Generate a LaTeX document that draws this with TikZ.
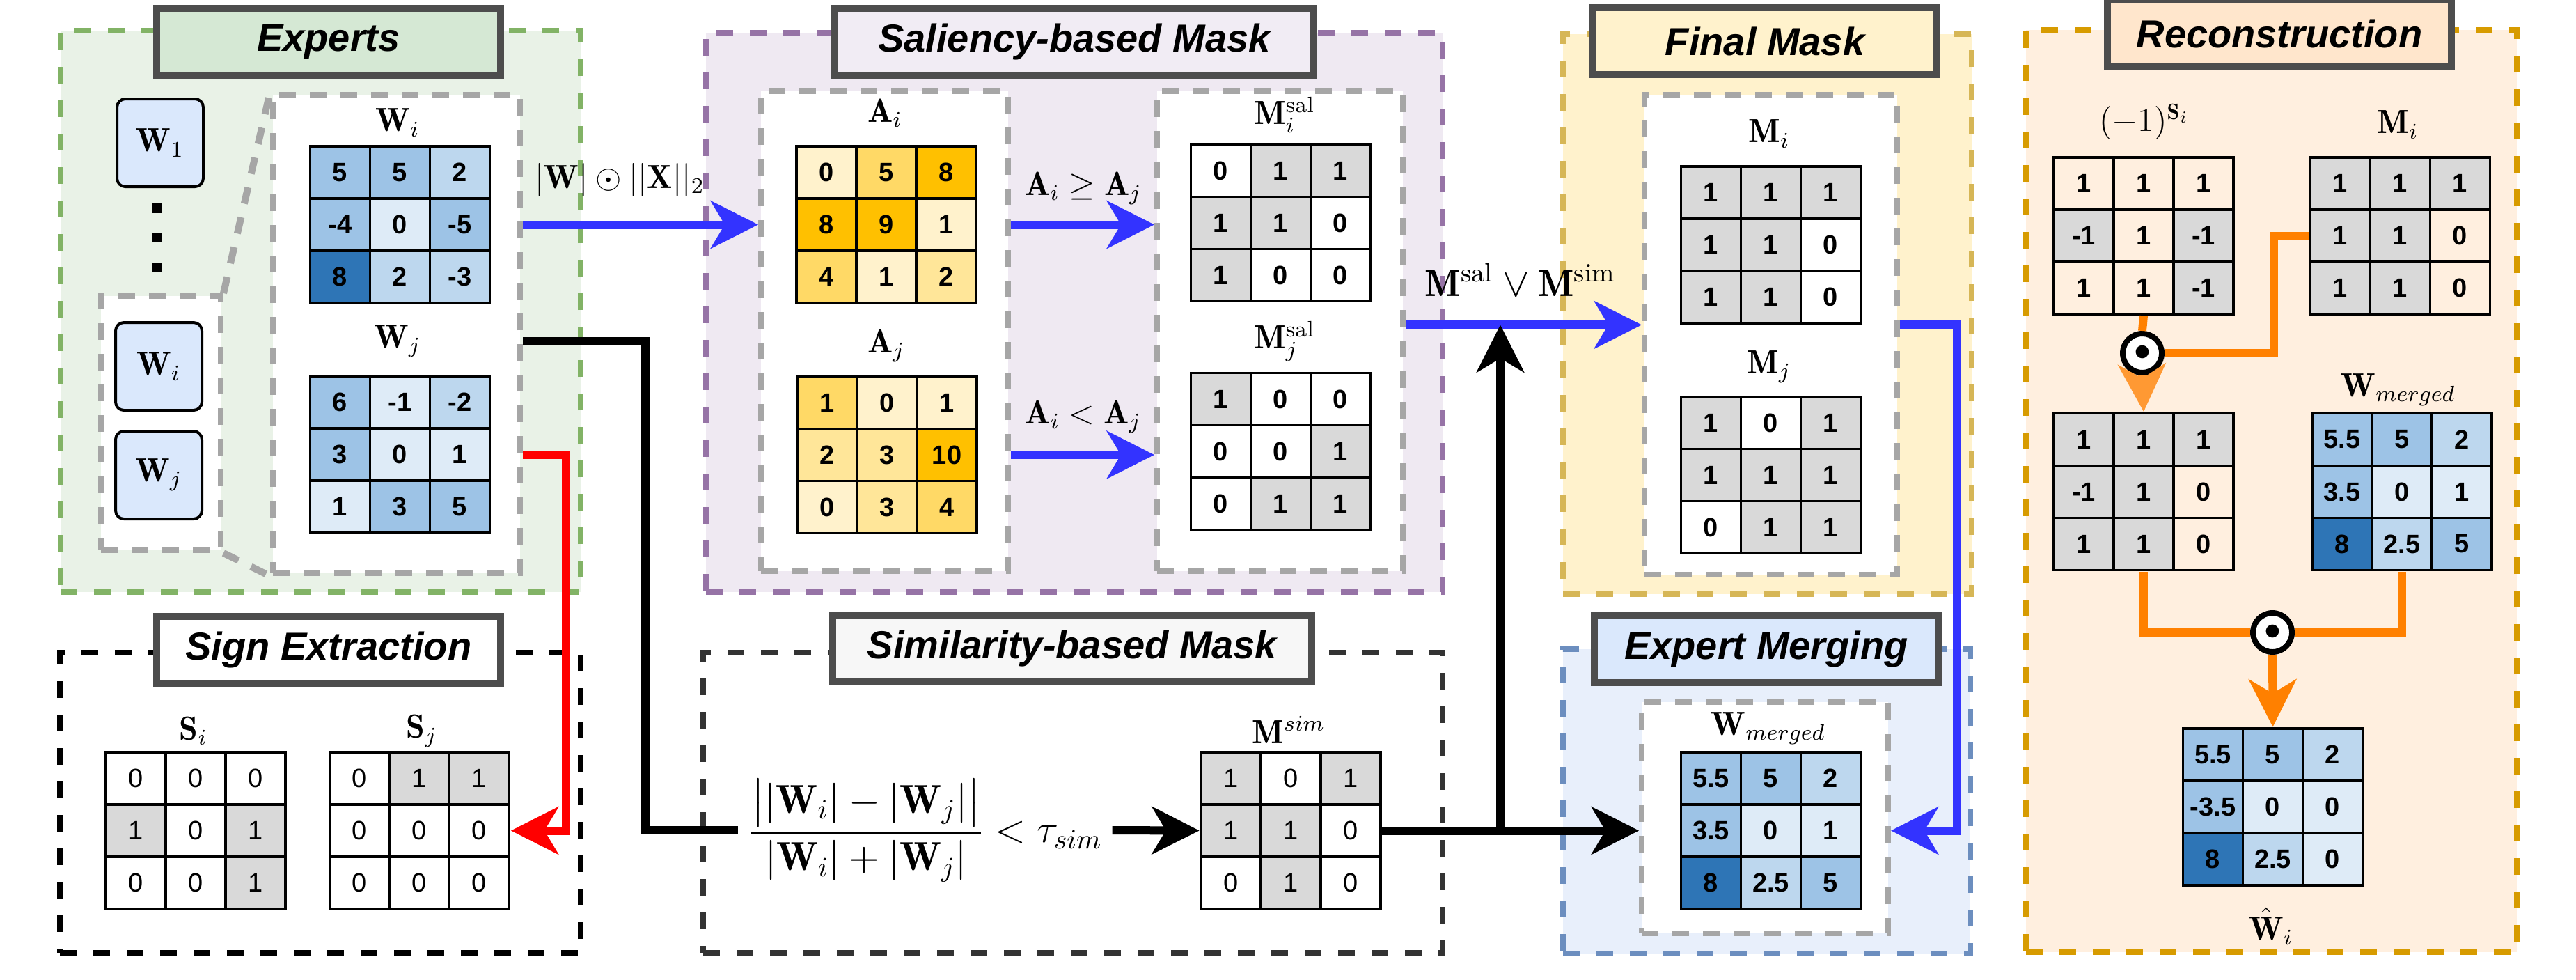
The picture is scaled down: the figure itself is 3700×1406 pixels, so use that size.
\documentclass[tikz,border=0pt]{standalone}
\usepackage{fontspec}
\usepackage{amsmath}
\newfontfamily\hv{Liberation Sans}
\usetikzlibrary{arrows.meta,matrix,calc}
\definecolor{gnline}{RGB}{130,179,102}
\definecolor{gnfill}{RGB}{233,242,231}
\definecolor{gntitle}{RGB}{213,232,212}
\definecolor{puline}{RGB}{150,115,166}
\definecolor{pufill}{RGB}{239,233,242}
\definecolor{putitle}{RGB}{241,236,244}
\definecolor{ylline}{RGB}{214,182,86}
\definecolor{ylfill}{RGB}{255,242,204}
\definecolor{orgline}{RGB}{215,155,0}
\definecolor{orgfill}{RGB}{255,239,223}
\definecolor{orgtitle}{RGB}{255,230,204}
\definecolor{bluline}{RGB}{108,142,191}
\definecolor{blufill}{RGB}{232,239,251}
\definecolor{blutitle}{RGB}{218,232,252}
\definecolor{simline}{RGB}{51,51,51}
\definecolor{ttline}{RGB}{77,77,77}
\definecolor{dashgray}{RGB}{166,166,166}
\definecolor{cellgray}{RGB}{217,217,217}
\definecolor{bdark}{RGB}{46,117,182}
\definecolor{bmid}{RGB}{157,195,230}
\definecolor{blite}{RGB}{189,215,238}
\definecolor{bvlite}{RGB}{222,235,247}
\definecolor{ydark}{RGB}{255,192,0}
\definecolor{ymid}{RGB}{255,217,102}
\definecolor{ylite}{RGB}{255,230,153}
\definecolor{yvlite}{RGB}{255,242,204}
\definecolor{flowblue}{RGB}{51,51,255}
\definecolor{floworange}{RGB}{255,128,0}
\tikzset{
  >={Stealth[length=17pt,width=17pt,inset=5pt]},
  every node/.style={font=\fontsize{12}{14}\selectfont},
  ttl/.style={draw=ttline,line width=2.5pt,minimum height=24pt,inner sep=0pt,font=\hv\bfseries\itshape\fontsize{14}{16}\selectfont},
  ttlw/.style={ttl,minimum width=123.5pt},
  ttlwide/.style={ttl,minimum width=172pt},
  grpbox/.style={line width=2pt,dash pattern=on 6pt off 6pt,inner sep=0pt},
  subbox/.style={draw=dashgray,fill=white,line width=2pt,dash pattern=on 6pt off 5pt,inner sep=0pt},
  zoomln/.style={draw=dashgray,line width=2.5pt,dash pattern=on 6pt off 5pt},
  expk/.style={draw,line width=1pt,rounded corners=3pt,fill=blutitle,minimum width=31pt,minimum height=31.5pt},
  dotsq/.style={fill=black,minimum size=3.5pt,inner sep=0pt},
  cell/.style={draw,line width=0.8pt,anchor=center,minimum width=21.5pt,minimum height=18.75pt,inner sep=0pt,font=\hv\bfseries\fontsize{9.5}{11}\selectfont},
  plaincell/.style={cell,font=\hv\fontsize{9.5}{11}\selectfont},
  mat/.style={matrix of nodes,column sep=-0.8pt,row sep=-0.8pt,inner sep=0pt,nodes={cell}},
  pmat/.style={mat,nodes={plaincell}},
  cgr/.style={fill=cellgray},
  cbd/.style={fill=bdark}, cbm/.style={fill=bmid}, cbl/.style={fill=blite}, cbv/.style={fill=bvlite},
  cyd/.style={fill=ydark}, cym/.style={fill=ymid}, cyl/.style={fill=ylite}, cyv/.style={fill=yvlite},
  odot/.style={circle,draw,fill=white,line width=2pt,minimum size=14pt,inner sep=0pt},
  bluearr/.style={->,draw=flowblue,line width=3pt},
  redarr/.style={->,draw=red,line width=3pt},
  blkarr/.style={->,line width=3pt},
  blkline/.style={line width=3pt},
  orarr/.style={->,draw=floworange,line width=3pt},
  orln/.style={draw=floworange,line width=3pt},
}
\begin{document}
\begin{tikzpicture}[x=0.25pt,y=-0.25pt]
  \useasboundingbox (0,0) rectangle (3700,1406);

  % ---------------- panels
  \node[grpbox,draw=gnline,fill=gnfill,minimum width=186.75pt,minimum height=201.5pt] (expbox) at (460.5,447) {};
  \node[grpbox,draw=puline,fill=pufill,minimum width=264.5pt,minimum height=200.75pt] (salbox) at (1543,448.5) {};
  \node[grpbox,draw=ylline,fill=ylfill,minimum width=146.75pt,minimum height=201pt] (finbox) at (2538.5,451) {};
  \node[grpbox,draw=orgline,fill=orgfill,minimum width=176.25pt,minimum height=331pt] (recbox) at (3262.5,705) {};
  \node[grpbox,draw=black,minimum width=187pt,minimum height=107.75pt] (signbox) at (460,1152.5) {};
  \node[grpbox,draw=simline,minimum width=265.5pt,minimum height=107.75pt] (simbox) at (1541,1152.5) {};
  \node[grpbox,draw=bluline,fill=blufill,minimum width=146.25pt,minimum height=109.25pt] (mrgbox) at (2537.5,1150.5) {};

  \node[ttlw,fill=gntitle] (expttl) at (472,60) {Experts};
  \node[ttlwide,fill=putitle] (salttl) at (1543,60) {Saliency-based Mask};
  \node[ttlw,fill=ylfill] (finttl) at (2535,59) {Final Mask};
  \node[ttlw,fill=orgtitle] (recttl) at (3274,48) {Reconstruction};
  \node[ttlw,fill=white] (signttl) at (472,933) {Sign Extraction};
  \node[ttlwide,fill=white!97!black] (simttl) at (1540,931) {Similarity-based Mask};
  \node[ttlw,fill=blutitle] (mrgttl) at (2537,932) {Expert Merging};

  % ---------------- experts
  \node[expk] (w1k) at (230,205) {$\mathbf{W}_1$};
  \node[dotsq] (dt1) at (226,299) {};
  \node[dotsq] (dt2) at (226,341) {};
  \node[dotsq] (dt3) at (226,384) {};
  \node[subbox,minimum width=43pt,minimum height=91.25pt] (grpij) at (231,607.5) {};
  \node[expk] (wik) at (228,526) {$\mathbf{W}_i$};
  \node[expk] (wjk) at (228,682) {$\mathbf{W}_j$};
  \node[subbox,minimum width=88.75pt,minimum height=171.75pt] (wbox) at (569.5,479.5) {};
  \draw[zoomln] (grpij.north east) -- (wbox.north west);
  \draw[zoomln] (grpij.south east) -- (wbox.south west);
  \node (wilab) at (571,176) {$\mathbf{W}_i$};
  \matrix (wi) [mat] at (574.5,322.5) {
    |[cbm]|5 & |[cbm]|5 & |[cbl]|2 \\
    |[cbm]|-4 & |[cbv]|0 & |[cbm]|-5 \\
    |[cbd]|8 & |[cbl]|2 & |[cbl]|-3 \\
  };
  \node (wjlab) at (571,490) {$\mathbf{W}_j$};
  \matrix (wj) [mat] at (574.5,652.5) {
    |[cbm]|6 & |[cbv]|-1 & |[cbl]|-2 \\
    |[cbm]|3 & |[cbv]|0 & |[cbv]|1 \\
    |[cbv]|1 & |[cbm]|3 & |[cbm]|5 \\
  };

  % ---------------- saliency-based mask
  \node[subbox,minimum width=88.75pt,minimum height=172.25pt] (abox) at (1270.5,475.5) {};
  \node (ailab) at (1271,162) {$\mathbf{A}_i$};
  \matrix (ai) [mat] at (1273,322.5) {
    |[cyv]|0 & |[cym]|5 & |[cyd]|8 \\
    |[cyd]|8 & |[cyd]|9 & |[cyv]|1 \\
    |[cym]|4 & |[cyv]|1 & |[cyl]|2 \\
  };
  \node (ajlab) at (1273,496) {$\mathbf{A}_j$};
  \matrix (aj) [mat] at (1274,653) {
    |[cym]|1 & |[cyv]|0 & |[cyv]|1 \\
    |[cyl]|2 & |[cyl]|3 & |[cyd]|10 \\
    |[cyv]|0 & |[cyl]|3 & |[cym]|4 \\
  };
  \node[subbox,minimum width=88.25pt,minimum height=172.25pt] (salm) at (1838.5,475.5) {};
  \node (msilab) at (1845,165) {$\mathbf{M}_i^{\mathrm{sal}}$};
  \matrix (msi) [mat] at (1839.5,320) {
    0 & |[cgr]|1 & |[cgr]|1 \\
    |[cgr]|1 & |[cgr]|1 & 0 \\
    |[cgr]|1 & 0 & 0 \\
  };
  \node (msjlab) at (1845,490) {$\mathbf{M}_j^{\mathrm{sal}}$};
  \matrix (msj) [mat] at (1839.5,648) {
    |[cgr]|1 & 0 & 0 \\
    0 & 0 & |[cgr]|1 \\
    0 & |[cgr]|1 & |[cgr]|1 \\
  };

  % ---------------- final mask
  \node[subbox,minimum width=90.75pt,minimum height=172.25pt] (fbox) at (2543.5,480.5) {};
  \node (mfilab) at (2541,192) {$\mathbf{M}_i$};
  \matrix (mfi) [mat] at (2543.5,351.5) {
    |[cgr]|1 & |[cgr]|1 & |[cgr]|1 \\
    |[cgr]|1 & |[cgr]|1 & 0 \\
    |[cgr]|1 & |[cgr]|1 & 0 \\
  };
  \node (mfjlab) at (2541,527) {$\mathbf{M}_j$};
  \matrix (mfj) [mat] at (2543.5,682) {
    |[cgr]|1 & 0 & |[cgr]|1 \\
    |[cgr]|1 & |[cgr]|1 & |[cgr]|1 \\
    0 & |[cgr]|1 & |[cgr]|1 \\
  };

  % ---------------- sign extraction
  \node (silab) at (278,1049) {$\mathbf{S}_i$};
  \matrix (si) [pmat] at (281,1192.5) {
    0 & 0 & 0 \\
    |[cgr]|1 & 0 & |[cgr]|1 \\
    0 & 0 & |[cgr]|1 \\
  };
  \node (sjlab) at (606,1049) {$\mathbf{S}_j$};
  \matrix (sj) [pmat] at (602.5,1192.5) {
    0 & |[cgr]|1 & |[cgr]|1 \\
    0 & 0 & 0 \\
    0 & 0 & 0 \\
  };

  % ---------------- similarity-based mask
  \node[font=\fontsize{14.5}{17}\selectfont] (simfn) at (1329,1192) {$\displaystyle\frac{\big||\mathbf{W}_i|-|\mathbf{W}_j|\big|}{|\mathbf{W}_i|+|\mathbf{W}_j|}<\tau_{sim}$};
  \node (msimlab) at (1851,1048) {$\mathbf{M}^{sim}$};
  \matrix (msim) [pmat] at (1854,1192.5) {
    |[cgr]|1 & 0 & |[cgr]|1 \\
    |[cgr]|1 & |[cgr]|1 & 0 \\
    0 & |[cgr]|1 & 0 \\
  };

  % ---------------- expert merging
  \node[subbox,minimum width=88.5pt,minimum height=83pt] (ebox) at (2535,1174) {};
  \node (wmlab) at (2540,1046) {$\mathbf{W}_{merged}$};
  \matrix (wm) [mat] at (2543.5,1192.5) {
    |[cbm]|5.5 & |[cbm]|5 & |[cbl]|2 \\
    |[cbm]|3.5 & |[cbv]|0 & |[cbv]|1 \\
    |[cbd]|8 & |[cbl]|2.5 & |[cbm]|5 \\
  };

  % ---------------- reconstruction
  \node (sgnlab) at (3080,175) {$(-1)^{\mathbf{S}_i}$};
  \matrix (sgn) [mat] at (3079,338.5) {
    1 & 1 & 1 \\
    |[cgr]|-1 & 1 & |[cgr]|-1 \\
    1 & 1 & |[cgr]|-1 \\
  };
  \node (rmilab) at (3444,179) {$\mathbf{M}_i$};
  \matrix (rmi) [mat] at (3447.5,338.5) {
    |[cgr]|1 & |[cgr]|1 & |[cgr]|1 \\
    |[cgr]|1 & |[cgr]|1 & 0 \\
    |[cgr]|1 & |[cgr]|1 & 0 \\
  };
  \node[odot] (od1) at (3077,507) {$\bullet$};
  \matrix (prod) [mat] at (3079,706) {
    |[cgr]|1 & |[cgr]|1 & |[cgr]|1 \\
    |[cgr]|-1 & |[cgr]|1 & 0 \\
    |[cgr]|1 & |[cgr]|1 & 0 \\
  };
  \node (rwmlab) at (3445,560) {$\mathbf{W}_{merged}$};
  \matrix (rwm) [mat] at (3450,706) {
    |[cbm]|5.5 & |[cbm]|5 & |[cbl]|2 \\
    |[cbm]|3.5 & |[cbv]|0 & |[cbv]|1 \\
    |[cbd]|8 & |[cbl]|2.5 & |[cbm]|5 \\
  };
  \node[odot] (od2) at (3264,908) {$\bullet$};
  \matrix (what) [mat] at (3264.5,1158.5) {
    |[cbm]|5.5 & |[cbm]|5 & |[cbl]|2 \\
    |[cbm]|-3.5 & |[cbv]|0 & |[cbv]|0 \\
    |[cbd]|8 & |[cbl]|2.5 & |[cbv]|0 \\
  };
  \node (whatlab) at (3262,1330) {$\hat{\mathbf{W}}_i$};

  % ---------------- connectors
  \draw[bluearr] (wbox.east |- wi) -- (abox.west |- wi);
  \node (salfn) at (890,258) {$|\mathbf{W}|\odot||\mathbf{X}||_2$};
  \draw[bluearr] (abox.east |- ai) -- (salm.west |- ai);
  \node (geqlab) at (1556,270) {$\mathbf{A}_i\geq\mathbf{A}_j$};
  \draw[bluearr] (abox.east |- aj) -- (salm.west |- aj);
  \node (ltlab) at (1556,598) {$\mathbf{A}_i<\mathbf{A}_j$};
  \draw[bluearr] (salm.east |- mfi.south) -- (fbox.west |- mfi.south);
  \node[font=\fontsize{13.5}{16}\selectfont] (orlab) at (2184,402) {$\mathbf{M}^{\mathrm{sal}}\vee\mathbf{M}^{\mathrm{sim}}$};
  \draw[bluearr] (fbox.east |- mfi.south) -- ++(82,0) |- (ebox.east |- wm);

  \draw[redarr] (wbox.east |- wj) -- ++(62,0) |- (sj.east);
  \draw[blkline] (wbox.east |- wjlab) -- ++(176,0) |- (simfn.west);
  \draw[blkarr] (simfn.east) -- (msim.west);
  \draw[blkarr] (msim.east) -- (ebox.west |- msim);
  \coordinate (jn) at ($(msim.east)!0.46!(ebox.west |- msim)$);
  \draw[blkarr] (jn) -- (jn |- mfi.south);

  \draw[orln] (sgn.south) -- (od1.north);
  \draw[orarr,draw=floworange!80] (od1.south) -- (prod.north);
  \draw[orln] (od1.east) -- ++(157,0) |- (rmi.west);
  \draw[orln] (prod.south) |- (od2.west);
  \draw[orln] (rwm.south) |- (od2.east);
  \draw[orarr] (od2.south) -- (what.north);
\end{tikzpicture}
\end{document}
